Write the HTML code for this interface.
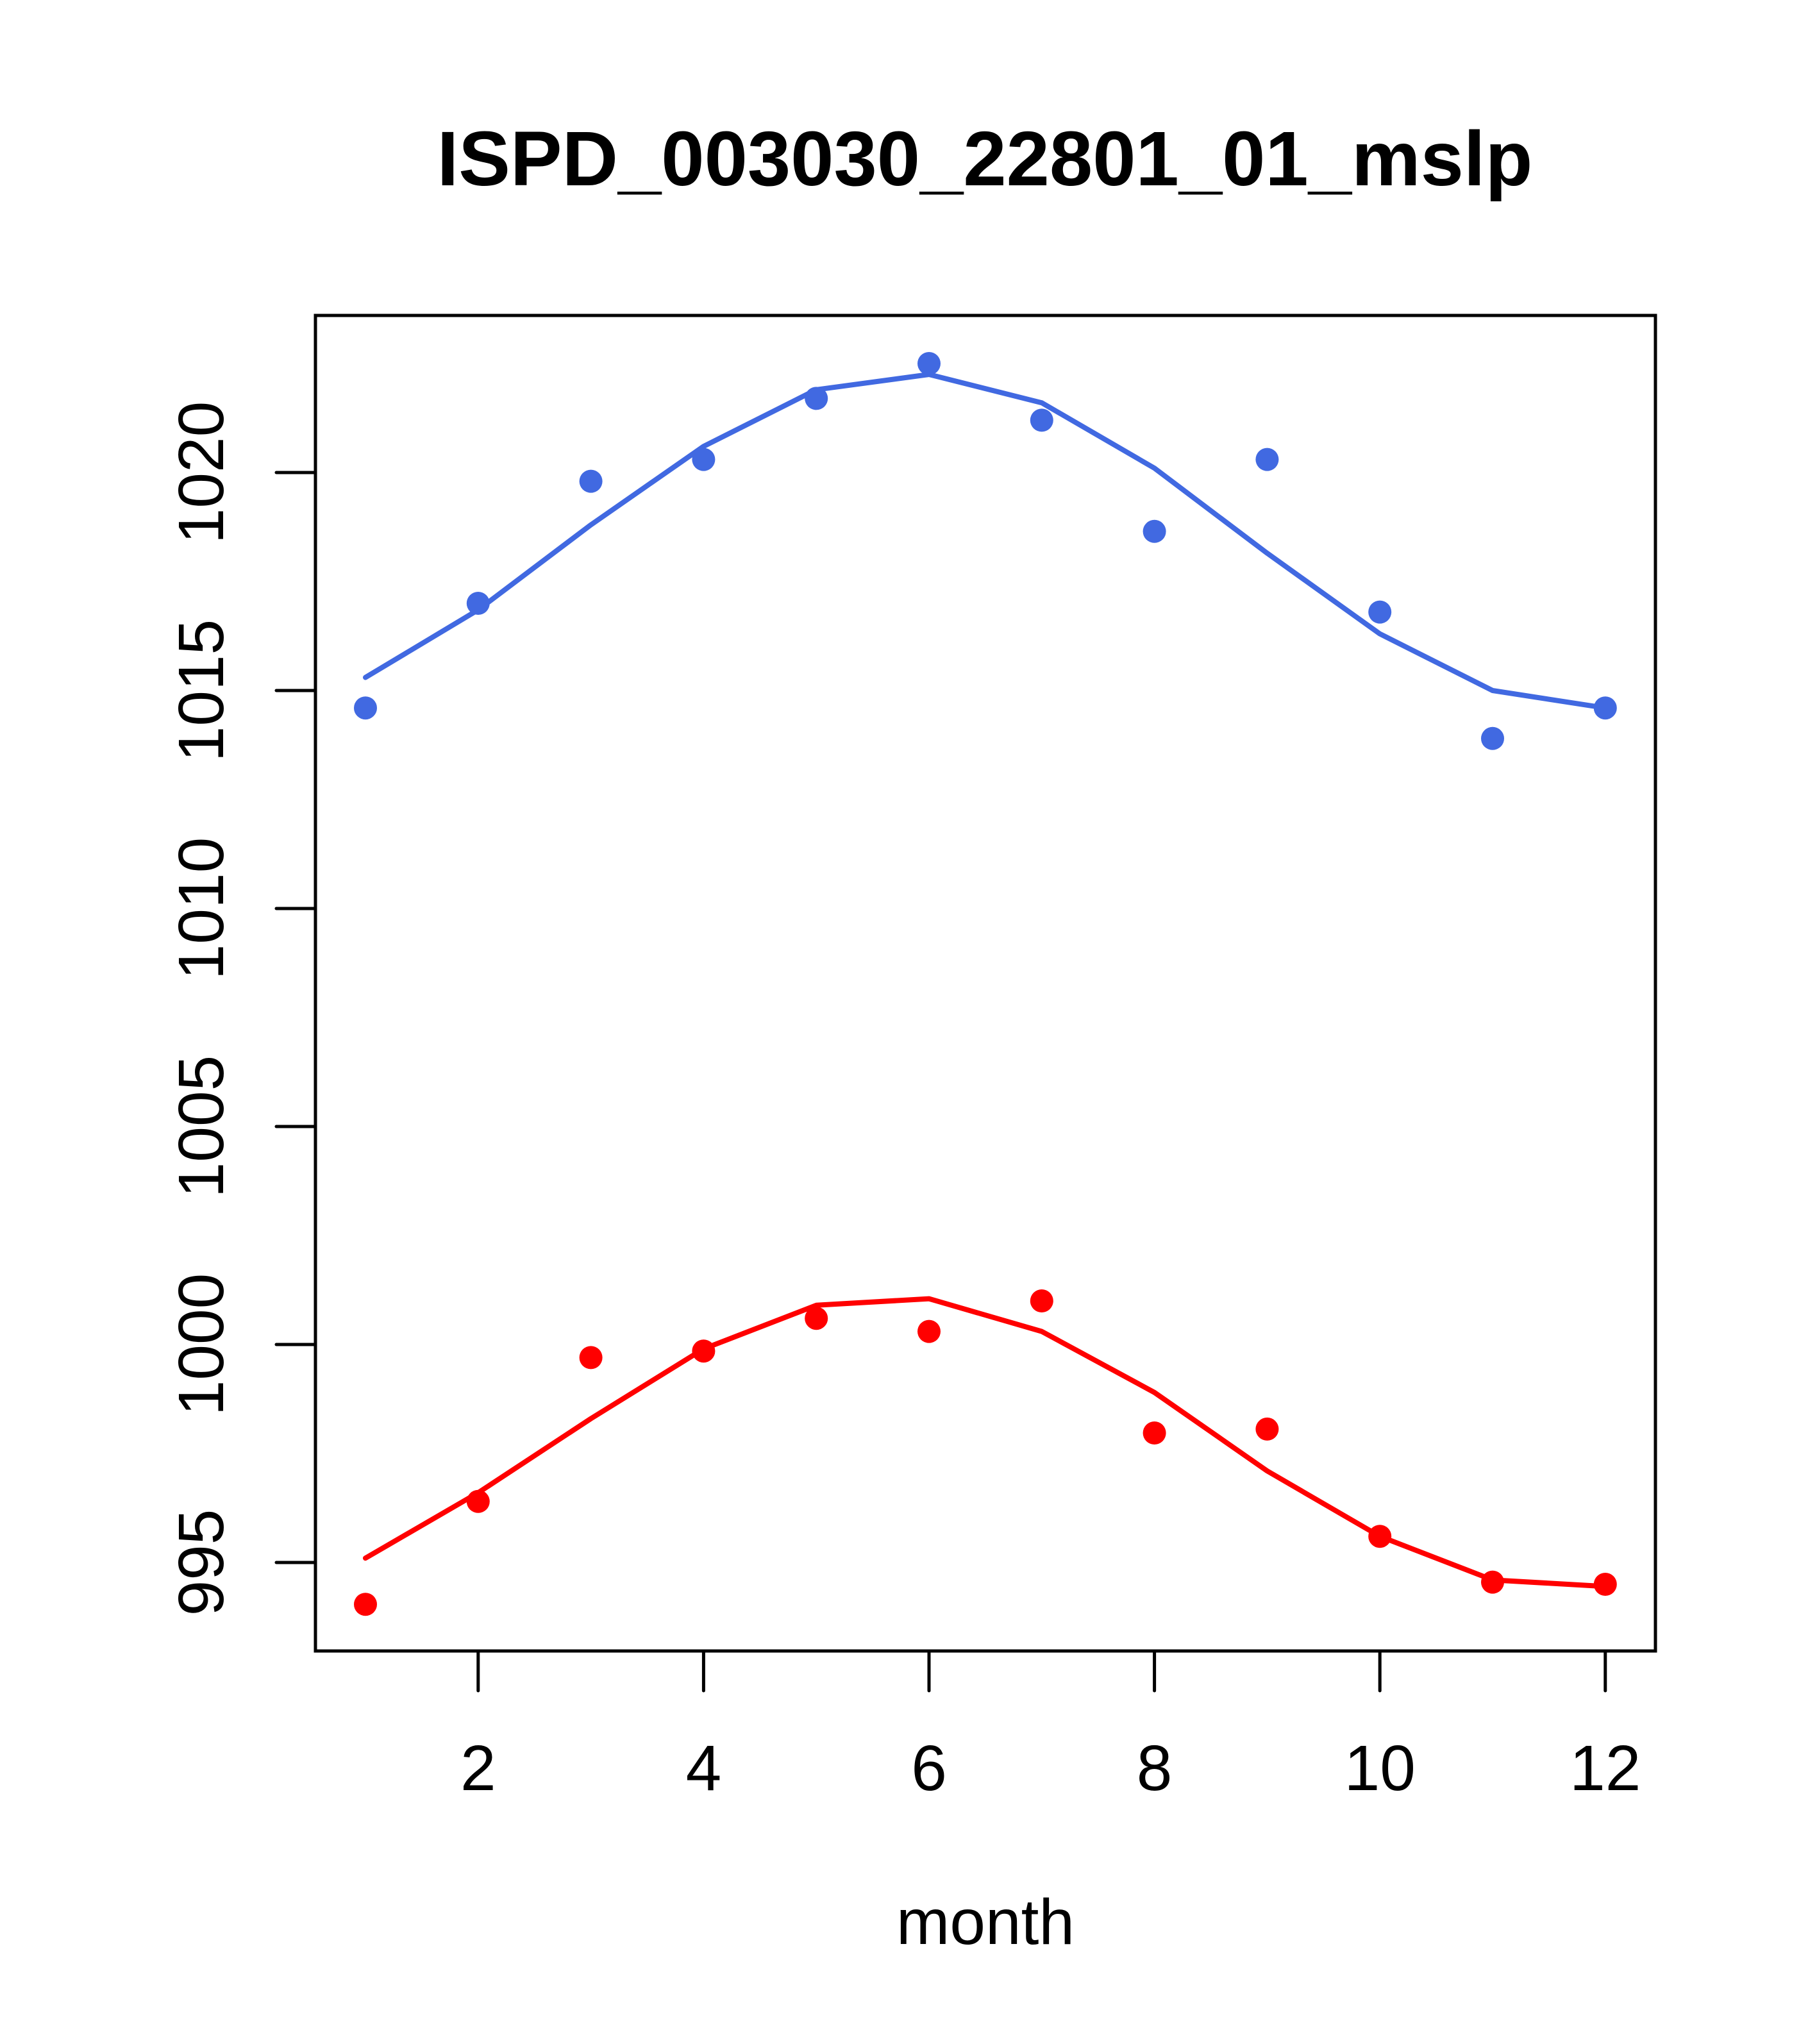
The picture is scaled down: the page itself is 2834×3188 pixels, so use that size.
<!DOCTYPE html>
<html><head><meta charset="utf-8"><style>
html,body{margin:0;padding:0;background:#fff;}
svg{display:block;}
text{font-family:"Liberation Sans",sans-serif;fill:#000;}
</style></head><body>
<svg id="chart" width="2834" height="3188" viewBox="0 0 2834 3188" xmlns="http://www.w3.org/2000/svg">
<text x="1536" y="289" font-size="121" font-weight="bold" text-anchor="middle">ISPD_003030_22801_01_mslp</text>
<rect x="492" y="492" width="2090" height="2083" fill="none" stroke="#000" stroke-width="5"/>
<g id="xaxis"></g>
<g id="yaxis"></g>
<g id="series"></g>
<text x="1537" y="3032" font-size="100" text-anchor="middle">month</text>
</svg>
<script>
const months = [1,2,3,4,5,6,7,8,9,10,11,12];
const xTicks = [2,4,6,8,10,12];
const yTicks = [995,1000,1005,1010,1015,1020];
const bluePoints = [1014.6,1017.0,1019.8,1020.3,1021.7,1022.5,1021.2,1018.65,1020.3,1016.8,1013.9,1014.6];
const blueLine = [1015.3,1016.85,1018.8,1020.6,1021.9,1022.25,1021.6,1020.1,1018.15,1016.3,1015.0,1014.6];
const redPoints = [994.04,996.4,999.7,999.85,1000.6,1000.3,1001.0,997.97,998.06,995.6,994.55,994.5];
const redLine = [995.1,996.6,998.3,999.9,1000.9,1001.05,1000.3,998.9,997.1,995.6,994.6,994.45];

const NS = "http://www.w3.org/2000/svg";
function xs(m){ return 570 + (m-1)*175.8; }
function ys(v){ return 2437 - (v-995)*68; }
function mk(tag, attrs, parent){
  const e = document.createElementNS(NS, tag);
  for (const k in attrs) e.setAttribute(k, attrs[k]);
  parent.appendChild(e);
  return e;
}
const xa = document.getElementById('xaxis');
xTicks.forEach(t => {
  const l = mk('line', {x1:xs(t), x2:xs(t), y1:2575, y2:2637, stroke:'#000','stroke-width':5,'stroke-linecap':'round'}, xa);
  
  
  const tx = mk('text', {x:xs(t), y:2792, 'font-size':100, 'text-anchor':'middle'}, xa);
  tx.textContent = t;
  
  
});
const ya = document.getElementById('yaxis');
yTicks.forEach(t => {
  const l = mk('line', {x1:431, x2:492, y1:ys(t), y2:ys(t), stroke:'#000','stroke-width':5,'stroke-linecap':'round'}, ya);
  
  
  const tx = mk('text', {x:0, y:0, 'font-size':100, 'text-anchor':'middle', transform:'translate(348,'+ys(t)+') rotate(-90)'}, ya);
  tx.textContent = t;
  
  
});
const sg = document.getElementById('series');
function drawSeries(pts, line, color, name){
  const p = mk('polyline', {points: line.map((v,i)=>xs(months[i])+','+ys(v)).join(' '), fill:'none', stroke:color, 'stroke-width':8, 'stroke-linecap':'round', 'stroke-linejoin':'round'}, sg);
  
  
  pts.forEach((v,i) => {
    const c = mk('circle', {cx:xs(months[i]), cy:ys(v), r:18, fill:color}, sg);
    
    
  });
}
drawSeries(bluePoints, blueLine, '#4169E1', 'blue');
drawSeries(redPoints, redLine, '#FF0000', 'red');
</script>
</body></html>
